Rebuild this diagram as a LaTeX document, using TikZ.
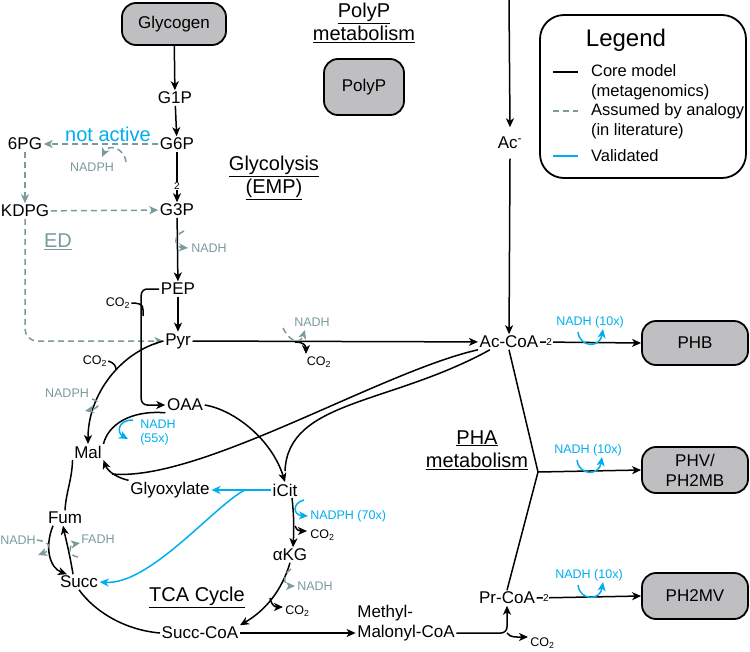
\documentclass[tikz,border=0pt]{standalone}
\usepackage{fontspec}
\setmainfont{Liberation Sans}
\usetikzlibrary{arrows.meta}

\definecolor{assumed}{RGB}{122,154,156}
\definecolor{validated}{RGB}{0,174,239}
\definecolor{poolgray}{RGB}{191,191,194}

\begin{document}
\begin{tikzpicture}[x=1pt,y=-1pt,->,>={Stealth[length=9pt,width=8pt,inset=2.5pt]},line width=1.5pt,
                    met/.style={font=\fontsize{17}{20}\selectfont,inner sep=1pt},
                    pool/.style={draw,fill=poolgray,rounded corners=14pt,line width=1.8pt,
                                 minimum width=106pt,minimum height=44pt,align=center,
                                 font=\fontsize{17}{20}\selectfont},
                    cof/.style={font=\fontsize{12.5}{14}\selectfont,inner sep=0.5pt},
                    title/.style={font=\fontsize{20}{23}\selectfont,align=center},
                    legtext/.style={font=\fontsize{16.5}{20.5}\selectfont,align=left,anchor=west},
                    stoich/.style={font=\fontsize{10}{10}\selectfont,fill=white,inner sep=0.6pt},
                    assume/.style={assumed,dash pattern=on 6pt off 4pt},
                    valid/.style={validated}]

  \useasboundingbox (0,0) rectangle (750,651);

  % pools
  \node[pool,minimum width=104pt,minimum height=42pt] (glycogen) at (174,24) {Glycogen};
  \node[pool,minimum width=80pt,minimum height=56pt]  (polyp)    at (364,87) {PolyP};
  \node[pool]                    (phb)   at (695,343) {PHB};
  \node[pool,minimum height=46pt] (phv)   at (695,470) {PHV/\\PH2MB};
  \node[pool,minimum height=46pt] (ph2mv) at (695,596) {PH2MV};

  % metabolites
  \node[met] (g1p)    at (175,98)  {G1P};
  \node[met] (g6p)    at (177,144) {G6P};
  \node[met] (g3p)    at (177,210) {G3P};
  \node[met] (pg6)    at (25,144)  {6PG};
  \node[met] (kdpg)   at (25,211)  {KDPG};
  \node[met] (pep)    at (178,289) {PEP};
  \node[met] (pyr)    at (178,341) {Pyr};
  \node[met] (oaa)    at (185,405) {OAA};
  \node[met] (mal)    at (88,452)  {Mal};
  \node[met] (glx)    at (170,490) {Glyoxylate};
  \node[met] (icit)   at (285,490) {iCit};
  \node[met] (akg)    at (290,555) {αKG};
  \node[met] (fum)    at (65,518)  {Fum};
  \node[met] (succ)   at (79,582)  {Succ};
  \node[met] (succoa) at (200,633) {Succ-CoA};
  \node[met,align=left] (mmcoa) at (406,623) {Methyl-\\Malonyl-CoA};
  \node[met] (prcoa)  at (507,598) {Pr-CoA};
  \node[met] (accoa)  at (509,342) {Ac-CoA};
  \node[met] (ac)     at (510,143) {Ac\textsuperscript{-}};
  \coordinate (acsrc) at (509,0);

  % section titles
  \node[title] (polytitle) at (364,23)  {\underline{PolyP}\\\underline{metabolism}};
  \node[title] (glytitle)  at (274,178) {\underline{Glycolysis}\\\underline{(EMP)}};
  \node[title] (phatitle)  at (477,450) {\underline{PHA}\\\underline{metabolism}};
  \node[title] (tcatitle)  at (197,597) {\underline{TCA Cycle}};
  \node[title,assumed]   (edtitle)  at (58,242)  {\underline{ED}};
  \node[title,validated] (inactive) at (108,134) {not active};

  % cofactors
  \node[cof,assumed] (nadph1) at (92,167)  {NADPH};
  \node[cof,assumed,anchor=west] (nadh1) at (190,248) {NADH};
  \node[cof,assumed] (nadh2)  at (312,322) {NADH};
  \node[cof] (co2p) at (319,362) {CO\textsubscript{2}};
  \node[cof] (co2a) at (118,303) {CO\textsubscript{2}};
  \node[cof] (co2b) at (95,361)  {CO\textsubscript{2}};
  \node[cof,assumed] (nadph2) at (67,393) {NADPH};
  \node[cof,validated,align=left,anchor=west] (nadh55) at (139,432) {NADH\\(55x)};
  \node[cof,validated,anchor=west] (nadph70) at (309,516) {NADPH (70x)};
  \node[cof,anchor=west] (co2c) at (309,535) {CO\textsubscript{2}};
  \node[cof,assumed,anchor=west] (nadh3) at (296,586) {NADH};
  \node[cof,anchor=west] (co2d) at (284,611) {CO\textsubscript{2}};
  \node[cof,assumed] (nadhf) at (18,540) {NADH};
  \node[cof,assumed,anchor=west] (fadh) at (80,539) {FADH};
  \node[cof,anchor=west] (co2e) at (529,643) {CO\textsubscript{2}};
  \node[cof,validated] (nadhb) at (590,322) {NADH (10x)};
  \node[cof,validated] (nadhv) at (588,450) {NADH (10x)};
  \node[cof,validated] (nadhm) at (589,575) {NADH (10x)};

  % glycolysis
  \path (glycogen) edge (g1p)
        (g1p) edge (g6p)
        (g6p) edge node[stoich,pos=0.68] {2} (g3p)
        (g3p) edge (pep)
        (pep) edge (pyr)
        (pyr) edge (accoa)
        (acsrc) edge ([yshift=8pt]ac.north)
        ([yshift=-8pt]ac.south) edge (accoa);
  \draw[assume] (126,162) .. controls (124,147) and (108,144) .. (102,157);
  \draw[assume] (184,231) .. controls (172,236) and (175,247) .. (188,248);

  % ED
  \draw[assume] (g6p) -- (pg6);
  \draw[assume] (pg6) -- (kdpg);
  \draw[assume] (kdpg) -- (g3p);
  \draw[assume,rounded corners=12pt] (kdpg.south) |- (pyr.west);

  % anaplerotic
  \draw[rounded corners=6pt] (pep.west) -- ++(-18,0) |- (oaa.west);
  \draw[-] (co2a.east) .. controls +(14,0) and +(0,-8) .. (143,316);
  \draw (pyr.west) .. controls (120,352) and (88,395) .. (mal.north);
  \draw[-] (co2b.east) .. controls +(6,2) and +(0,-4) .. (116,370);
  \draw[assume] (92,399) .. controls (101,401) and (100,408) .. (85,411);

  % pyr to Ac-CoA cofactors
  \draw[assume] (283,328) .. controls (290,342) and (300,345) .. (305,330);
  \draw (295,342) .. controls (304,342) and (306,346) .. (306,354);

  % TCA cycle
  \draw[-] (oaa.south west) .. controls (130,410) and (108,425) .. (mal.north east);
  \draw[valid] (133,420) .. controls (117,420) and (117,433) .. (128,439);
  \draw (oaa.east) .. controls (235,410) and (272,440) .. (icit.north);
  \draw[-] ([xshift=12pt]accoa.south west) .. controls (390,405) and (288,400) .. ([yshift=11pt]icit.north);
  \coordinate (malin) at (112,474);
  \draw[-] (accoa.south west) .. controls (380,372) and (200,482) .. (malin);
  \draw (glx.north west) .. controls (118,478) and (108,472) .. (mal.south east);
  \coordinate (lyase) at (245,490);
  \draw[valid] (icit.west) -- (glx.east);
  \draw[valid] (lyase) .. controls (215,505) and (150,585) .. (succ.east);
  \draw ([xshift=7pt]icit.south) .. controls +(2,18) and +(1,-18) .. ([xshift=3pt]akg.north);
  \draw[valid] (304,500) .. controls (292,503) and (293,515) .. (308,516);
  \draw (295,526) .. controls (297,531) and (300,531) .. (307,531);
  \draw (akg.south) .. controls (282,590) and (266,610) .. (succoa.north east);
  \draw[assume] (291,569) .. controls (282,575) and (284,586) .. (295,586);
  \draw (270,598) .. controls (272,606) and (275,607) .. (283,607);
  \draw[-] (mal.south west) .. controls (72,480) and (66,492) .. (fum.north);
  \draw ([xshift=-12pt]fum.south) .. controls (44,548) and (50,568) .. ([xshift=-12pt]succ.north);
  \draw ([xshift=-6pt]succ.north) .. controls (70,555) and (66,540) .. ([xshift=-2pt]fum.south);
  \draw[assume] (nadhf.east) .. controls (52,542) and (52,550) .. (38,555);
  \draw[assume] (78,557) .. controls (68,556) and (68,545) .. (80,543);
  \draw[-] (succ.south) .. controls (95,612) and (125,630) .. (succoa.west);

  % methylmalonyl route
  \draw (succoa.east) -- ([yshift=-10pt]mmcoa.west);
  \draw[rounded corners=6pt] ([yshift=-10pt]mmcoa.east) -| (prcoa.south);
  \draw (507,633) .. controls (510,638) and (518,637) .. (528,637);

  % PHA
  \coordinate (pha) at (538,472);
  \draw (accoa.east) -- node[stoich,pos=0.09] {2} (phb.west);
  \draw[-] (accoa.south) -- (pha);
  \draw[-] (prcoa.north) -- (pha);
  \draw (pha) -- (phv.west);
  \draw (prcoa.east) -- node[stoich,pos=0.09] {2} (ph2mv.west);
  \draw[valid] (578,332) .. controls (580,348) and (600,348) .. (603,329);
  \draw[valid] (577,460) .. controls (579,476) and (599,476) .. (602,457);
  \draw[valid] (578,585) .. controls (580,601) and (600,601) .. (603,582);

  % legend
  \draw[-,line width=1.8pt,rounded corners=24pt] (540,15) rectangle (746,178);
  \node[font=\fontsize{24}{28}\selectfont] (legtitle) at (626,40) {Legend};
  \node[legtext] (legcore)   at (587,82)  {Core model\\(metagenomics)};
  \node[legtext] (legassume) at (587,121) {Assumed by analogy\\(in literature)};
  \node[legtext] (legvalid)  at (587,156) {Validated};
  \draw[-] (553,72) -- (578,72);
  \draw[-,assume] (553,111) -- (578,111);
  \draw[-,valid] (553,156) -- (578,156);
\end{tikzpicture}
\end{document}
